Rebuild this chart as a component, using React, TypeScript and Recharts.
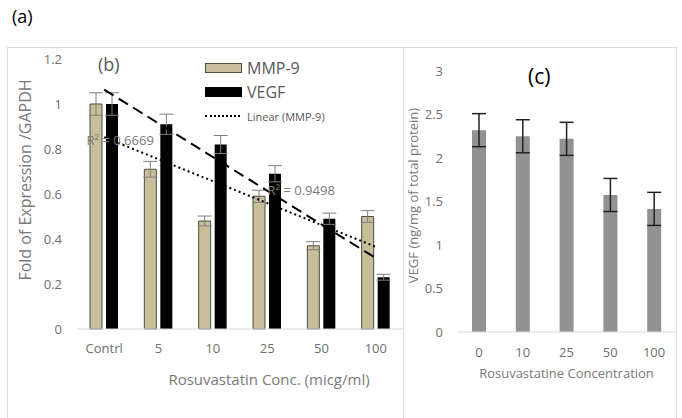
import React from 'react'
import {
  ComposedChart,
  Bar,
  Line,
  XAxis,
  YAxis,
  ErrorBar,
  ReferenceDot,
} from 'recharts'

// (b) fold of expression
const categories = ['Contrl', '5', '10', '25', '50', '100']
const mmp9 = [1.0, 0.71, 0.48, 0.59, 0.37, 0.5]
const mmp9Err = [0.05, 0.035, 0.022, 0.027, 0.018, 0.026]
const vegf = [1.0, 0.91, 0.82, 0.69, 0.49, 0.23]
const vegfErr = [0.05, 0.045, 0.04, 0.036, 0.025, 0.013]
// excel trendline end points
const mmp9Trend = [0.852, null, null, null, null, 0.365]
const vegfTrend = [1.064, null, null, null, null, 0.315]
const leftTicks = [0, 0.2, 0.4, 0.6, 0.8, 1, 1.2]

// (c) VEGF concentration
const concLabels = ['0', '10', '25', '50', '100']
const vegfConc = [2.32, 2.25, 2.22, 1.575, 1.415]
const vegfConcErr = [0.19, 0.19, 0.19, 0.19, 0.19]
const rightTicks = [0, 0.5, 1, 1.5, 2, 2.5, 3]

const leftData = categories.map((c, i) => ({
  name: c,
  mmp9: mmp9[i],
  mmp9Err: mmp9Err[i],
  vegf: vegf[i],
  vegfErr: vegfErr[i],
  mmp9Trend: mmp9Trend[i],
  vegfTrend: vegfTrend[i],
}))

const rightData = concLabels.map((c, i) => ({
  name: c,
  value: vegfConc[i],
  err: vegfConcErr[i],
}))

const TAN = '#c8bf9a'
const TICK = '#6f6f6f'
const TITLE = '#7a7a7a'

function LegendBox() {
  const row: React.CSSProperties = { display: 'flex', alignItems: 'center', height: 24 }
  return (
    <div style={{ color: '#595959' }}>
      <div style={row}>
        <div style={{ width: 37, height: 10, background: TAN, border: '1px solid #4d4d40', boxSizing: 'border-box' }} />
        <span style={{ marginLeft: 5, fontSize: 16 }}>MMP-9</span>
      </div>
      <div style={row}>
        <div style={{ width: 37, height: 10, background: '#000' }} />
        <span style={{ marginLeft: 5, fontSize: 16 }}>VEGF</span>
      </div>
      <div style={row}>
        <div style={{ width: 35, height: 0, borderTop: '2px dotted #000', marginRight: 2 }} />
        <span style={{ marginLeft: 5, fontSize: 11 }}>Linear (MMP-9)</span>
      </div>
    </div>
  )
}

export default function App() {
  return (
    <div
      style={{
        position: 'absolute',
        left: 0,
        top: 0,
        width: 682,
        height: 418,
        overflow: 'hidden',
        background: '#fff',
        fontFamily: "'Open Sans', sans-serif",
      }}
    >
      <div style={{ position: 'absolute', left: 12, top: 4, fontSize: 18, color: '#000' }}>(a)</div>

      {/* panel frames */}
      <div style={{ position: 'absolute', left: 7, top: 47, width: 397, height: 400, border: '1px solid #d9d9d9', boxSizing: 'border-box' }} />
      <div style={{ position: 'absolute', left: 403, top: 47, width: 274, height: 400, border: '1px solid #d9d9d9', boxSizing: 'border-box' }} />

      {/* (b) */}
      <div style={{ position: 'absolute', left: 8, top: 47 }}>
        <ComposedChart
          width={396}
          height={371}
          data={leftData}
          margin={{ top: 12, right: 1, left: 0, bottom: 49 }}
          barSize={12}
          barGap={4}
        >
          <XAxis
            dataKey="name"
            height={40}
            axisLine={{ stroke: '#d9d9d9' }}
            tickLine={false}
            tickSize={0}
            tickMargin={15}
            tick={{ fontSize: 13, fill: TICK }}
            interval={0}
            label={{ value: 'Rosuvastatin Conc. (micg/ml)', position: 'insideTop', offset: 45, dx: 29, style: { fontSize: 15, fill: TITLE } }}
          />
          <YAxis
            width={69}
            domain={[0, 1.2]}
            ticks={leftTicks}
            axisLine={false}
            tickLine={false}
            tickSize={0}
            tickMargin={15}
            tick={{ fontSize: 13, fill: TICK }}
            label={{ value: 'Fold of Expression /GAPDH', angle: -90, position: 'insideLeft', offset: 17, dy: -14, style: { fontSize: 16, fill: TITLE, textAnchor: 'middle' } }}
          />
          <Bar dataKey="mmp9" fill={TAN} stroke="#4d4d40" strokeWidth={1} isAnimationActive={false}>
            <ErrorBar dataKey="mmp9Err" width={7} stroke="#7f7f7f" strokeWidth={1} />
          </Bar>
          <Bar dataKey="vegf" fill="#000" isAnimationActive={false}>
            <ErrorBar dataKey="vegfErr" width={7} stroke="#7f7f7f" strokeWidth={1} />
          </Bar>
          <Line
            type="linear"
            dataKey="vegfTrend"
            connectNulls
            stroke="#000"
            strokeWidth={2}
            strokeDasharray="11 6"
            dot={false}
            activeDot={false}
            legendType="none"
            isAnimationActive={false}
          />
          <Line
            type="linear"
            dataKey="mmp9Trend"
            connectNulls
            stroke="#000"
            strokeWidth={2}
            strokeDasharray="2 3"
            dot={false}
            activeDot={false}
            legendType="none"
            isAnimationActive={false}
          />
          <ReferenceDot
            x="Contrl"
            y={0.84}
            r={0}
            fill="none"
            stroke="none"
            label={{ value: 'R² = 0.6669', position: 'center', dx: 16, style: { fontSize: 13, fill: TITLE } }}
          />
          <ReferenceDot
            x="25"
            y={0.618}
            r={0}
            fill="none"
            stroke="none"
            label={{ value: 'R² = 0.9498', position: 'center', dx: 34, style: { fontSize: 13, fill: TITLE } }}
          />
        </ComposedChart>
      </div>
      <div style={{ position: 'absolute', left: 98, top: 52, fontSize: 18, color: '#595959' }}>(b)</div>
      <div style={{ position: 'absolute', left: 205, top: 56 }}>
        <LegendBox />
      </div>

      {/* (c) */}
      <div style={{ position: 'absolute', left: 404, top: 47 }}>
        <ComposedChart
          width={272}
          height={371}
          data={rightData}
          margin={{ top: 24, right: 0, left: 0, bottom: 46 }}
          barSize={14}
        >
          <XAxis
            dataKey="name"
            height={40}
            axisLine={{ stroke: '#d9d9d9' }}
            tickLine={false}
            tickSize={0}
            tickMargin={16}
            tick={{ fontSize: 13, fill: TICK }}
            interval={0}
            label={{ value: 'Rosuvastatine Concentration', position: 'insideTop', offset: 37, style: { fontSize: 13, fill: TITLE } }}
          />
          <YAxis
            width={53}
            domain={[0, 3]}
            ticks={rightTicks}
            axisLine={false}
            tickLine={false}
            tickSize={0}
            tickMargin={14}
            tick={{ fontSize: 13, fill: TICK }}
            label={{ value: 'VEGF (ng/mg of total protein)', angle: -90, position: 'insideLeft', offset: 9, dy: -6, style: { fontSize: 13, fill: TITLE, textAnchor: 'middle' } }}
          />
          <Bar dataKey="value" fill="#929292" isAnimationActive={false}>
            <ErrorBar dataKey="err" width={7} stroke="#222" strokeWidth={1.5} />
          </Bar>
        </ComposedChart>
      </div>
      <div style={{ position: 'absolute', left: 528, top: 62, fontSize: 21, color: '#000' }}>(c)</div>
    </div>
  )
}
